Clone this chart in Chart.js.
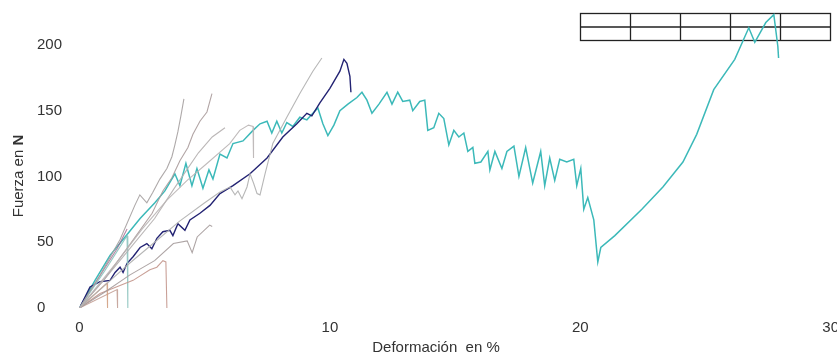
<!DOCTYPE html>
<html>
<head>
  <meta charset="utf-8">
  <title>Fuerza - Deformación</title>
  <script src="https://cdn.jsdelivr.net/npm/chart.js"></script>
  <style>
    body { margin: 0; overflow: hidden; background: #fff; }
    .wrap { width: 850px; height: 358px; }
  </style>
</head>
<body>
  <div class="wrap">
    <canvas id="myChart"></canvas>
  </div>

  <script>
    // tick labels
    var xTicks = [0, 10, 20, 30];
    var yTicks = [0, 50, 100, 150, 200];
    var xTitle = 'Deformación  en %';
    var yTitle = 'Fuerza en ';
    var yTitleBold = 'N';

    // curves: [deformacion %, fuerza N]
    var tealCurve = [[0,0],[0.62,21],[1.22,40],[1.82,54],[2.42,68],[3.01,80],[3.41,89],[3.81,102],[4.01,93],[4.25,110],
      [4.49,93],[4.69,106],[4.93,91],[5.17,105],[5.33,98],[5.61,117],[5.89,114],[6.13,125],[6.53,127],[6.93,135],
      [7.21,140],[7.49,142],[7.68,133],[7.88,142],[8.08,133],[8.28,141],[8.52,138],[8.8,145],[9.08,143],[9.32,148],
      [9.52,152],[9.72,140],[9.92,131],[10.16,139],[10.4,150],[10.72,155],[11.08,160],[11.28,164],[11.48,158],[11.68,148],
      [11.96,155],[12.28,164],[12.48,155],[12.71,164],[12.91,157],[13.19,158],[13.31,150],[13.59,157],[13.79,158],[13.91,135],
      [14.15,137],[14.35,148],[14.55,144],[14.75,124],[14.95,135],[15.15,130],[15.35,133],[15.51,119],[15.71,122],[15.79,110],
      [16.03,111],[16.31,119],[16.39,105],[16.59,119],[16.87,106],[17.07,119],[17.35,123],[17.55,100],[17.82,122],[18.1,95],
      [18.42,119],[18.58,93],[18.78,114],[18.98,97],[19.18,113],[19.46,111],[19.74,113],[19.86,93],[20.02,106],[20.14,75],
      [20.3,84],[20.54,67],[20.7,35],[20.82,46],[21.38,55],[22.46,75],[23.3,92],[24.1,111],[24.65,132],[25.33,166],
      [26.17,189],[26.73,213],[26.97,202],[27.41,217],[27.73,223],[27.89,199],[27.92,190]];
    var navyCurve = [[0,0],[0.42,16],[0.82,20],[1.22,21],[1.42,27],[1.62,31],[1.74,27],[1.9,34],[2.14,39],[2.42,46],
      [2.69,49],[2.89,45],[3.09,53],[3.33,58],[3.61,59],[3.73,55],[3.93,64],[4.21,59],[4.41,67],[4.81,72],
      [5.21,78],[5.61,87],[6.13,93],[6.81,102],[7.49,114],[8.12,130],[8.68,140],[9.08,148],[9.28,146],[9.6,156],
      [10.0,167],[10.4,180],[10.56,189],[10.68,186],[10.8,176],[10.84,164]];
    var greyA = [[0,0],[0.82,25],[1.62,52],[2.21,78],[2.41,86],[2.69,80],[2.93,88],[3.21,98],[3.49,106],[3.69,115],[3.81,124],[3.93,134],[4.05,146],[4.17,159]];
    var greyB = [[0,0],[1,22],[2,48],[2.9,72],[3.33,89],[3.69,99],[4.01,112],[4.33,122],[4.53,132],[4.81,142],[5.09,149],[5.29,163]];
    var greyC = [[0,0],[1,22],[2,45],[3,68],[3.75,90],[4.25,104],[4.75,118],[5.3,130],[5.81,137]];
    var greyD = [[0,0],[1,17],[2,34],[3,50],[4,66],[5,80],[5.6,88],[6.01,92],[6.21,86],[6.33,89],[6.49,83],[6.69,92],[6.81,102],
      [6.95,95],[7.09,87],[7.21,86],[7.41,102],[7.72,125],[8.28,145],[8.8,163],[9.32,180],[9.68,190]];
    var greyN = [[0,0],[1.5,35],[2.5,60],[3.49,82],[4.3,97],[5.1,110],[6.0,125],[6.4,135],[6.75,139],[6.93,138],[6.95,114]];
    var greyJ = [[0,0],[1,12],[2,25],[3,36],[3.75,49],[4.3,51],[4.5,42],[4.7,54],[5.2,63],[5.3,62]];
    var brownF = [[0,0],[0.82,11],[2.14,21],[2.81,29],[3.09,31],[3.33,36],[3.45,35],[3.49,0]];
    var tealG = [[0,0],[1.0,28],[1.9,55],[1.93,0]];
    var brownH = [[0,0],[1.1,19],[1.12,0]];
    var brownI = [[0,0],[1.5,14],[1.52,0]];
    var mauveQ = [[0,0],[0.5,15],[1.0,30],[1.5,45],[1.9,60]];

    function pts(arr) {
      return arr.map(function(p) { return { x: p[0], y: p[1] }; });
    }

    function line(arr, color, width) {
      return {
        data: pts(arr),
        showLine: true,
        borderColor: color,
        borderWidth: width,
        pointRadius: 0,
        tension: 0,
        fill: false
      };
    }

    // little empty table top right + axis titles
    var extras = {
      id: 'extras',
      beforeDatasetsDraw: function(chart) {
        var c = chart.ctx;
        c.save();
        c.strokeStyle = '#222';
        c.lineWidth = 1.3;
        c.strokeRect(580.5, 13.5, 250, 27);
        c.beginPath();
        c.moveTo(580.5, 27); c.lineTo(830.5, 27);
        for (var i = 1; i < 5; i++) {
          c.moveTo(580.5 + i * 50, 13.5); c.lineTo(580.5 + i * 50, 40.5);
        }
        c.stroke();
        c.restore();
      },
      afterDraw: function(chart) {
        var c = chart.ctx;
        c.save();
        c.fillStyle = '#333';
        c.textBaseline = 'middle';
        c.textAlign = 'center';
        c.font = '15px "Liberation Sans", Arial, sans-serif';
        c.fillText(xTitle, 436, 348);

        c.translate(19, 176);
        c.rotate(-Math.PI / 2);
        c.textAlign = 'left';
        var w1 = c.measureText(yTitle).width;
        c.font = 'bold 15px "Liberation Sans", Arial, sans-serif';
        var w2 = c.measureText(yTitleBold).width;
        var start = -(w1 + w2) / 2;
        c.font = '15px "Liberation Sans", Arial, sans-serif';
        c.fillText(yTitle, start, 0);
        c.font = 'bold 15px "Liberation Sans", Arial, sans-serif';
        c.fillText(yTitleBold, start + w1, 0);
        c.restore();
      }
    };

    var ctx = document.getElementById('myChart').getContext('2d');
    var chart = new Chart(ctx, {
      type: 'scatter',
      data: {
        datasets: [
          line(greyD, 'rgba(175,175,175,0.9)', 1.1),
          line(greyN, 'rgba(185,180,180,0.9)', 1.1),
          line(greyC, 'rgba(180,175,175,0.9)', 1.1),
          line(greyB, 'rgba(170,155,155,0.9)', 1.1),
          line(greyA, 'rgba(165,160,160,0.9)', 1.1),
          line(greyJ, 'rgba(165,155,155,0.9)', 1.1),
          line(brownF, 'rgba(195,150,140,0.9)', 1.1),
          line(brownH, 'rgba(210,160,130,0.9)', 1.1),
          line(brownI, 'rgba(195,160,150,0.9)', 1.1),
          line(tealG, 'rgba(140,195,190,0.9)', 1.1),
          line(mauveQ, 'rgba(165,100,140,0.8)', 1.1),
          line(navyCurve, 'rgb(35,35,115)', 1.4),
          line(tealCurve, 'rgb(60,185,185)', 1.5)
        ]
      },
      options: {
        responsive: true,
        maintainAspectRatio: false,
        animation: false,
        layout: { padding: { left: 37, right: 19, top: 11, bottom: 0 } },
        plugins: {
          legend: { display: false },
          tooltip: { enabled: false }
        },
        scales: {
          x: {
            type: 'linear',
            min: 0,
            max: 30,
            grid: { display: false, drawTicks: false },
            border: { display: false },
            afterBuildTicks: function(scale) {
              scale.ticks = xTicks.map(function(v) { return { value: v }; });
            },
            afterFit: function(scale) { scale.height = 50; },
            ticks: {
              padding: 11,
              color: '#333',
              font: { family: '"Liberation Sans", Arial, sans-serif', size: 15 }
            }
          },
          y: {
            min: 0,
            max: 225,
            grid: { display: false, drawTicks: false },
            border: { display: false },
            afterBuildTicks: function(scale) {
              scale.ticks = yTicks.map(function(v) { return { value: v }; });
            },
            afterFit: function(scale) { scale.width = 42.5; },
            ticks: {
              crossAlign: 'far',
              color: '#333',
              font: { family: '"Liberation Sans", Arial, sans-serif', size: 15 }
            }
          }
        }
      },
      plugins: [extras]
    });
  </script>
</body>
</html>
